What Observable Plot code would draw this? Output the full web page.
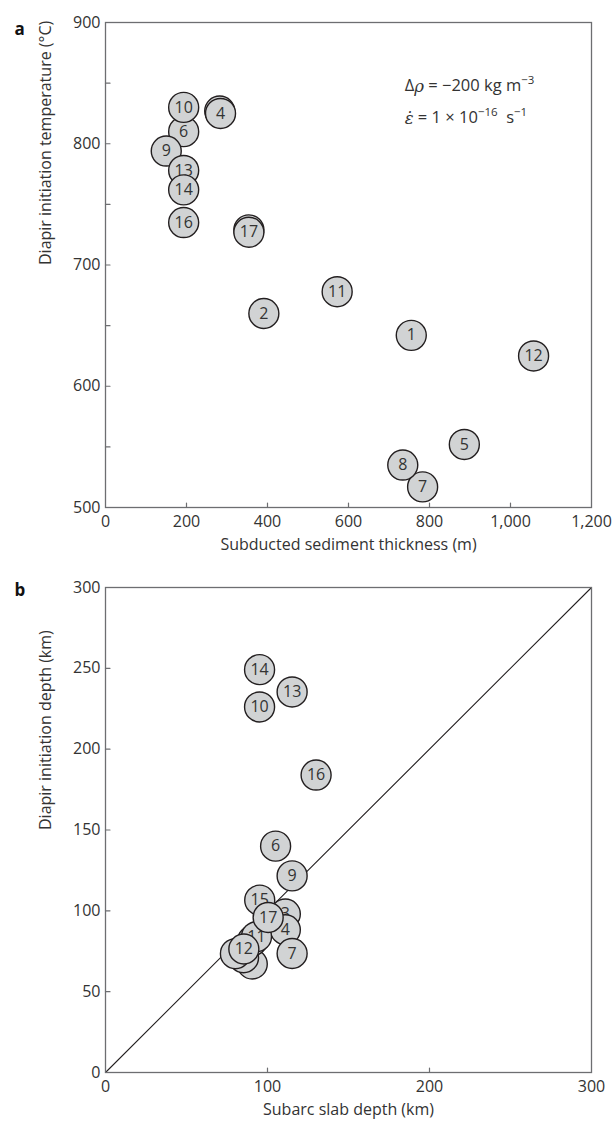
<!DOCTYPE html>
<html><head><meta charset="utf-8">
<script src="https://cdn.jsdelivr.net/npm/d3@7"></script>
<script src="https://cdn.jsdelivr.net/npm/@observablehq/plot@0.6"></script>
<style>
body{margin:0;background:#fff;}
#wrap{position:relative;width:612px;height:1122px;overflow:hidden;}
#wrap svg{position:absolute;left:0;display:block;}
</style></head><body><div id="wrap"></div>
<script>
// ---- data ----
const ids = [1,2,3,4,5,6,7,8,9,10,11,12,13,14,15,16,17];
// panel a: subducted sediment thickness (m) vs diapir initiation temperature (°C)
const sedThickness = [755, 391, 282, 284, 886, 193, 783, 734, 150, 193, 572, 1057, 193, 193, 354, 193, 354];
const initTemp     = [642, 660, 827, 825, 552, 810, 517, 535, 794, 830, 678, 625, 778, 762, 729, 735, 727];
// panel b: subarc slab depth (km) vs diapir initiation depth (km)
const slabDepth = [90.6, 85.2, 111, 111, 80.2, 105, 115.2, 90.7, 115.2, 95.1, 93.2, 85.4, 115.2, 95.1, 95.2, 130, 100.4];
const initDepth = [67.1, 71, 98, 88.3, 73.5, 140, 73.6, 81.5, 121.6, 226.1, 84, 76.4, 235.4, 249.2, 106.6, 184, 95.9];
// axes
const xDomainA = [0, 1200], yDomainA = [500, 900];
const xTicksA = [0, 200, 400, 600, 800, 1000, 1200];
const yTicksA = [500, 600, 700, 800, 900];
const xTickMarksA = [200, 400, 600, 800, 1000];
const yTickMarksA = [550, 600, 650, 700, 750, 800, 850];
const xDomainB = [0, 300], yDomainB = [0, 300];
const xTicksB = [0, 100, 200, 300];
const yTicksB = [0, 50, 100, 150, 200, 250, 300];
const xTickMarksB = [100, 200];
const yTickMarksB = [50, 100, 150, 200, 250];
const diagX = [0, 300], diagY = [0, 300];

// ---- style ----
const FONT = "Open Sans";
const frameColor = "#6d6e71";
const ink = "#333333";
const dotFill = "#d1d3d4";
const dotStroke = "#231f20";
const tickShape = {draw(ctx, l){ ctx.moveTo(0,0); ctx.lineTo(0,-l); }};

function pointMarks(data){
  return data.flatMap(d => [
    Plot.dot([d], {x:"x", y:"y", r:15, fill:dotFill, stroke:dotStroke, strokeWidth:1.4}),
    Plot.text([d], {x:"x", y:"y", text:d => String(d.id), fontSize:16, fill:ink})
  ]);
}

function panel({data, xDomain, yDomain, xTicks, yTicks, xTickMarks, yTickMarks, xFormat, xLabel, yLabel, letter, height, marginTop, marginBottom, letterDy, extra}){
  return Plot.plot({
    width:612, height, marginLeft:105, marginRight:21, marginTop, marginBottom,
    style:{fontFamily:FONT, fontSize:"16px", color:ink, background:"transparent", overflow:"visible"},
    x:{domain:xDomain}, y:{domain:yDomain},
    marks:[
      ...(extra || []),
      Plot.frame({stroke:frameColor, strokeWidth:1.3}),
      Plot.axisX(xTicks, {tickSize:0, tickPadding:8, tickFormat:xFormat, label:null, fill:ink, fontSize:16}),
      Plot.axisY(yTicks, {tickSize:0, tickPadding:5, label:null, fill:ink, fontSize:16}),
      Plot.vector(xTickMarks, {x:d=>d, y:yDomain[0], length:4.5, rotate:0, anchor:"start", shape:tickShape, stroke:frameColor, strokeWidth:1.2}),
      Plot.vector(yTickMarks, {x:xDomain[0], y:d=>d, length:4.5, rotate:90, anchor:"start", shape:tickShape, stroke:frameColor, strokeWidth:1.2}),
      Plot.text([xLabel], {frameAnchor:"bottom", dy:42, text:d=>d, fontSize:16, fill:ink}),
      Plot.text([yLabel], {frameAnchor:"left", dx:-60, rotate:-90, text:d=>d, fontSize:16, fill:ink}),
      Plot.text([letter], {frameAnchor:"top-left", dx:-91, dy:letterDy, text:d=>d, fontSize:17, fontWeight:"bold", fill:"#111", textAnchor:"start"}),
      ...pointMarks(data)
    ]
  });
}

const dataA = ids.map((id,i) => ({id, x:sedThickness[i], y:initTemp[i]}));
const dataB = ids.map((id,i) => ({id, x:slabDepth[i], y:initDepth[i]}));

const chartA = panel({data:dataA, xDomain:xDomainA, yDomain:yDomainA, xTicks:xTicksA, yTicks:yTicksA,
  xTickMarks:xTickMarksA, yTickMarks:yTickMarksA, xFormat:d3.format(","),
  xLabel:"Subducted sediment thickness (m)", yLabel:"Diapir initiation temperature (°C)", letter:"a",
  height:565, marginTop:22, marginBottom:58, letterDy:0});

const diag = diagX.map((x,i) => ({x, y:diagY[i]}));
const chartB = panel({data:dataB, xDomain:xDomainB, yDomain:yDomainB, xTicks:xTicksB, yTicks:yTicksB,
  xTickMarks:xTickMarksB, yTickMarks:yTickMarksB, xFormat:d3.format("d"),
  xLabel:"Subarc slab depth (km)", yLabel:"Diapir initiation depth (km)", letter:"b",
  height:557, marginTop:22, marginBottom:50, letterDy:-4,
  extra:[Plot.line(diag, {x:"x", y:"y", stroke:dotStroke, strokeWidth:1.1})]});

const wrap = document.getElementById("wrap");
chartA.style.top = "0px";
chartB.style.top = "565px";
wrap.appendChild(chartA);
wrap.appendChild(chartB);

// annotation in panel a
const sx = chartA.scale("x"), sy = chartA.scale("y");
const ann = d3.select(chartA).append("g")
  .attr("font-family", FONT).attr("font-size", 16.5).attr("fill", ink).attr("text-anchor", "start");
const ax = sx.apply(740);
const t1 = ann.append("text").attr("x", ax).attr("y", sy.apply(846)).attr("dominant-baseline", "middle").attr("text-anchor", "start");
t1.append("tspan").text("Δ");
t1.append("tspan").attr("font-style", "italic").attr("font-family", "DejaVu Serif").text("ρ");
t1.append("tspan").text(" = −200 kg m");
t1.append("tspan").attr("font-size", 11.5).attr("dy", -6).text("−3");
const t2 = ann.append("text").attr("x", ax).attr("y", sy.apply(820)).attr("dominant-baseline", "middle").attr("text-anchor", "start");
t2.append("tspan").attr("font-style", "italic").attr("font-family", "DejaVu Serif").text("ε\u0307");
t2.append("tspan").text(" = 1 × 10");
t2.append("tspan").attr("font-size", 11.5).attr("dy", -6).text("−16");
t2.append("tspan").attr("dy", 6).text("  s");
t2.append("tspan").attr("font-size", 11.5).attr("dy", -6).text("−1");
</script>
</body></html>
